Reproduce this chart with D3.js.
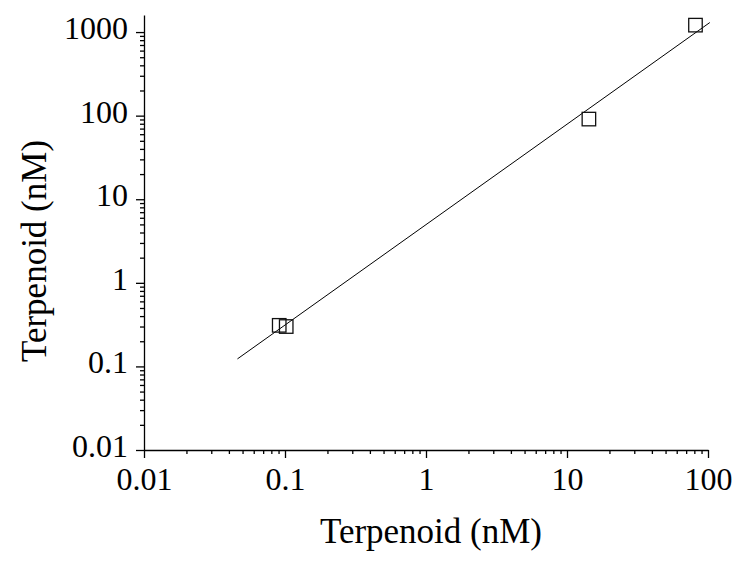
<!DOCTYPE html>
<html>
<head>
<meta charset="utf-8">
<script src="https://cdn.jsdelivr.net/npm/d3@7"></script>
<style>
    body { margin: 0; background: #fff; }
    svg { display: block; }
</style>
</head>
<body>
<svg id="chart" width="740" height="561"></svg>
<script>
const WIDTH = 740;
const HEIGHT = 561;
const FONT = '"Liberation Serif", "Times New Roman", serif';

// measured points (nM)
const xValues = [0.091, 0.102, 14.3, 81.5];
const yValues = [0.31, 0.30, 91, 1210];

// fitted line end points
const fitX = [0.046, 103];
const fitY = [0.123, 1300];

const xTicks = [0.01, 0.1, 1, 10, 100];
const yTicks = [0.01, 0.1, 1, 10, 100, 1000];
const xTickLabels = ['0.01', '0.1', '1', '10', '100'];
const yTickLabels = ['0.01', '0.1', '1', '10', '100', '1000'];

const xTitle = 'Terpenoid (nM)';
const yTitle = 'Terpenoid (nM)';

const svg = d3.select('#chart');

const x = d3.scaleLog().domain([0.01, 100]).range([144, 708]);
const y = d3.scaleLog().domain([0.01, 1600]).range([450, 15]);

// minor ticks 2..9 per decade
function minorTicks(majors) {
    let out = [];
    majors.slice(0, -1).forEach(function (m) {
        for (let k = 2; k <= 9; k++) out.push(m * k);
    });
    return out;
}

const xMinor = minorTicks(xTicks);
const yMinor = minorTicks(yTicks);

function styleAxis(g) {
    g.selectAll('path.domain').attr('stroke', '#000').attr('stroke-width', 1.3);
    g.selectAll('.tick line').attr('stroke', '#000').attr('stroke-width', 1.3);
    g.selectAll('text').attr('font-family', FONT).attr('font-size', 32).attr('fill', '#000');
}

// x axis
const gx = svg.append('g')
    .attr('transform', 'translate(0,' + y(0.01) + ')')
    .call(d3.axisBottom(x).tickValues(xTicks)
        .tickFormat(function (d, i) { return xTickLabels[i]; })
        .tickSize(8).tickPadding(9).tickSizeOuter(0));
styleAxis(gx);

svg.append('g')
    .attr('transform', 'translate(0,' + y(0.01) + ')')
    .call(d3.axisBottom(x).tickValues(xMinor).tickFormat('').tickSize(4).tickSizeOuter(0))
    .call(function (g) { g.select('path.domain').remove(); })
    .call(styleAxis);

// y axis
const gy = svg.append('g')
    .attr('transform', 'translate(' + x(0.01) + ',0)')
    .call(d3.axisLeft(y).tickValues(yTicks)
        .tickFormat(function (d, i) { return yTickLabels[i]; })
        .tickSize(8).tickPadding(8).tickSizeOuter(0));
styleAxis(gy);
gy.selectAll('text').attr('dy', '0.2em');

svg.append('g')
    .attr('transform', 'translate(' + x(0.01) + ',0)')
    .call(d3.axisLeft(y).tickValues(yMinor).tickFormat('').tickSize(4).tickSizeOuter(0))
    .call(function (g) { g.select('path.domain').remove(); })
    .call(styleAxis);

// fit line
svg.append('line')
    .attr('x1', x(fitX[0]))
    .attr('y1', y(fitY[0]))
    .attr('x2', x(fitX[1]))
    .attr('y2', y(fitY[1]))
    .attr('stroke', '#000')
    .attr('stroke-width', 1);

// data squares
const SQ = 13.5;
svg.append('g').selectAll('rect')
    .data(xValues.map(function (v, i) { return { x: v, y: yValues[i] }; }))
    .join('rect')
    .attr('x', function (d) { return x(d.x) - SQ / 2; })
    .attr('y', function (d) { return y(d.y) - SQ / 2; })
    .attr('width', SQ)
    .attr('height', SQ)
    .attr('fill', 'none')
    .attr('stroke', '#111')
    .attr('stroke-width', 1.3);

// axis titles
svg.append('text')
    .text(xTitle)
    .attr('x', 431)
    .attr('y', 543)
    .attr('text-anchor', 'middle')
    .attr('font-family', FONT)
    .attr('font-size', 35)
    .attr('fill', '#000');

svg.append('text')
    .text(yTitle)
    .attr('transform', 'translate(46,251) rotate(-90)')
    .attr('text-anchor', 'middle')
    .attr('font-family', FONT)
    .attr('font-size', 35)
    .attr('fill', '#000');
</script>
</body>
</html>
